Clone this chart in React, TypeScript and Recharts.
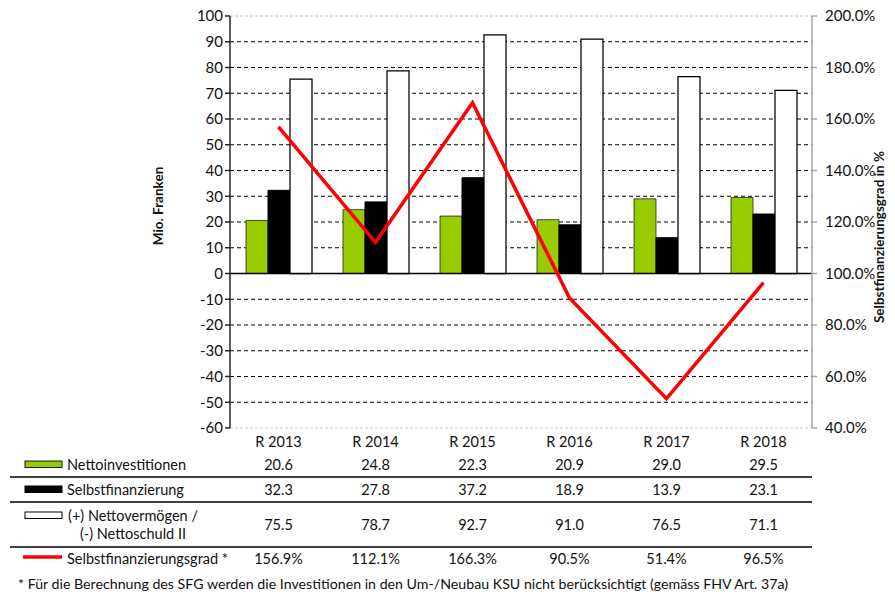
import React from 'react';
import { ComposedChart, Bar, Line, XAxis, YAxis, ReferenceLine, CartesianGrid } from 'recharts';

const categories = ['R 2013', 'R 2014', 'R 2015', 'R 2016', 'R 2017', 'R 2018'];
const nettoinvestitionen = [20.6, 24.8, 22.3, 20.9, 29.0, 29.5];
const selbstfinanzierung = [32.3, 27.8, 37.2, 18.9, 13.9, 23.1];
const nettovermoegen = [75.5, 78.7, 92.7, 91.0, 76.5, 71.1];
const selbstfinanzierungsgrad = [156.9, 112.1, 166.3, 90.5, 51.4, 96.5];
const leftTicks = [-60, -50, -40, -30, -20, -10, 0, 10, 20, 30, 40, 50, 60, 70, 80, 90, 100];
const rightTicks = [40, 60, 80, 100, 120, 140, 160, 180, 200];

const rowLabels = ['Nettoinvestitionen', 'Selbstfinanzierung', '(+) Nettovermögen /', '(-) Nettoschuld II', 'Selbstfinanzierungsgrad *'];
const footnote = '* Für die Berechnung des SFG werden die Investitionen in den Um-/Neubau KSU nicht berücksichtigt (gemäss FHV Art. 37a)';

const GREEN = '#99CC00';
const RED = '#FF0000';
const FONT = 'Lato, "Open Sans", sans-serif';

const data = categories.map((c, i) => ({
  cat: c,
  ni: nettoinvestitionen[i],
  sf: selbstfinanzierung[i],
  nv: nettovermoegen[i],
  sfg: selbstfinanzierungsgrad[i],
}));

const fmt1 = (v: number) => v.toFixed(1);

const TableTick = (props: any) => {
  const { x, y, payload } = props;
  const i = payload.index;
  const t = { textAnchor: 'middle' as const, dominantBaseline: 'central' as const, fontSize: 14.5, fill: '#111', fontFamily: FONT };
  return (
    <g>
      <text x={x} y={y + 13} {...t}>{categories[i]}</text>
      <text x={x} y={y + 36} {...t}>{fmt1(nettoinvestitionen[i])}</text>
      <text x={x} y={y + 61} {...t}>{fmt1(selbstfinanzierung[i])}</text>
      <text x={x} y={y + 96} {...t}>{fmt1(nettovermoegen[i])}</text>
      <text x={x} y={y + 130} {...t}>{fmt1(selbstfinanzierungsgrad[i]) + '%'}</text>
    </g>
  );
};

const GridLine = (props: any) => {
  const { x1, x2, y1, y2, index, horizontalPoints } = props;
  const n = horizontalPoints ? horizontalPoints.length : leftTicks.length;
  const edge = index === 0 || index === n - 1;
  return (
    <line
      x1={x1}
      x2={x2}
      y1={y1}
      y2={y2}
      stroke={edge ? '#c8c8c8' : '#000'}
      strokeWidth={1}
      strokeDasharray={edge ? '3 2' : '4 3'}
    />
  );
};

export default function App() {
  return (
    <div style={{ position: 'absolute', left: 0, top: 0, width: 895, height: 592, background: '#fff', fontFamily: FONT }}>
      <ComposedChart
        width={895}
        height={592}
        data={data}
        margin={{ top: 16, right: 0, bottom: 0, left: 170 }}
        barGap={0}
        barCategoryGap={16}
        style={{ fontFamily: FONT }}
      >
        <CartesianGrid yAxisId="left" vertical={false} horizontal={(p: any) => <GridLine {...p} />} />
        <XAxis
          dataKey="cat"
          xAxisId={0}
          height={164}
          axisLine={false}
          tickLine={false}
          tickSize={0}
          tickMargin={0}
          interval={0}
          tick={<TableTick />}
        />
        <YAxis
          yAxisId="left"
          width={60}
          domain={[-60, 100]}
          ticks={leftTicks}
          interval={0}
          allowDataOverflow
          axisLine={{ stroke: '#262626', strokeWidth: 1.5 }}
          tickLine={{ stroke: '#262626', strokeWidth: 1.5 }}
          tickSize={5}
          tickMargin={2}
          tick={{ fill: '#111', fontSize: 15, fontFamily: FONT }}
        />
        <YAxis
          yAxisId="right"
          orientation="right"
          width={83}
          domain={[40, 200]}
          ticks={rightTicks}
          interval={0}
          allowDataOverflow
          axisLine={{ stroke: '#a6a6a6', strokeWidth: 1.5 }}
          tickLine={{ stroke: '#a6a6a6', strokeWidth: 1.5 }}
          tickSize={5}
          tickMargin={8}
          tickFormatter={(v: number) => v.toFixed(1) + '%'}
          tick={{ fill: '#111', fontSize: 15, fontFamily: FONT }}
        />
        <Bar yAxisId="left" dataKey="ni" fill={GREEN} stroke="#1a1a1a" strokeWidth={0.75} isAnimationActive={false} />
        <Bar yAxisId="left" dataKey="sf" fill="#000" stroke="#000" strokeWidth={1} isAnimationActive={false} />
        <Bar yAxisId="left" dataKey="nv" fill="#fff" stroke="#000" strokeWidth={1.25} isAnimationActive={false} />
        <ReferenceLine yAxisId="left" y={0} stroke="#000" strokeWidth={1.5} />
        <Line yAxisId="right" dataKey="sfg" type="linear" stroke={RED} strokeWidth={3.5} dot={false} isAnimationActive={false} />
      </ComposedChart>
      <svg width={895} height={592} style={{ position: 'absolute', left: 0, top: 0, pointerEvents: 'none' }}>
        <g fontFamily={FONT} fontSize={14.5} fill="#111">
          <text x={158} y={206} transform="rotate(-90 158 206)" textAnchor="middle" dominantBaseline="central" fontWeight="bold" fontSize={13.5}>Mio. Franken</text>
          <text x={879} y={237} transform="rotate(-90 879 237)" textAnchor="middle" dominantBaseline="central" fontWeight="bold" fontSize={13.5}>Selbstfinanzierungsgrad in %</text>

          <rect x={25} y={461} width={37} height={6.5} fill={GREEN} stroke="#1a1a1a" strokeWidth={1} />
          <text x={67} y={464} dominantBaseline="central">{rowLabels[0]}</text>
          <line x1={10} x2={812} y1={477} y2={477} stroke="#000" strokeWidth={1.5} />

          <rect x={25} y={486} width={37} height={6.5} fill="#000" stroke="#000" strokeWidth={1} />
          <text x={67} y={489} dominantBaseline="central">{rowLabels[1]}</text>
          <line x1={10} x2={812} y1={502} y2={502} stroke="#000" strokeWidth={1.5} />

          <rect x={25} y={512} width={37} height={6.5} fill="#fff" stroke="#000" strokeWidth={1} />
          <text x={133} y={515} textAnchor="middle" dominantBaseline="central">{rowLabels[2]}</text>
          <text x={133} y={533} textAnchor="middle" dominantBaseline="central">{rowLabels[3]}</text>
          <line x1={10} x2={812} y1={547} y2={547} stroke="#000" strokeWidth={1.5} />

          <line x1={23} x2={62} y1={557} y2={557} stroke={RED} strokeWidth={3.5} />
          <text x={67} y={558} dominantBaseline="central">{rowLabels[4]}</text>

          <text x={18} y={583} dominantBaseline="central" fontSize={14.2}>{footnote}</text>
        </g>
      </svg>
    </div>
  );
}
